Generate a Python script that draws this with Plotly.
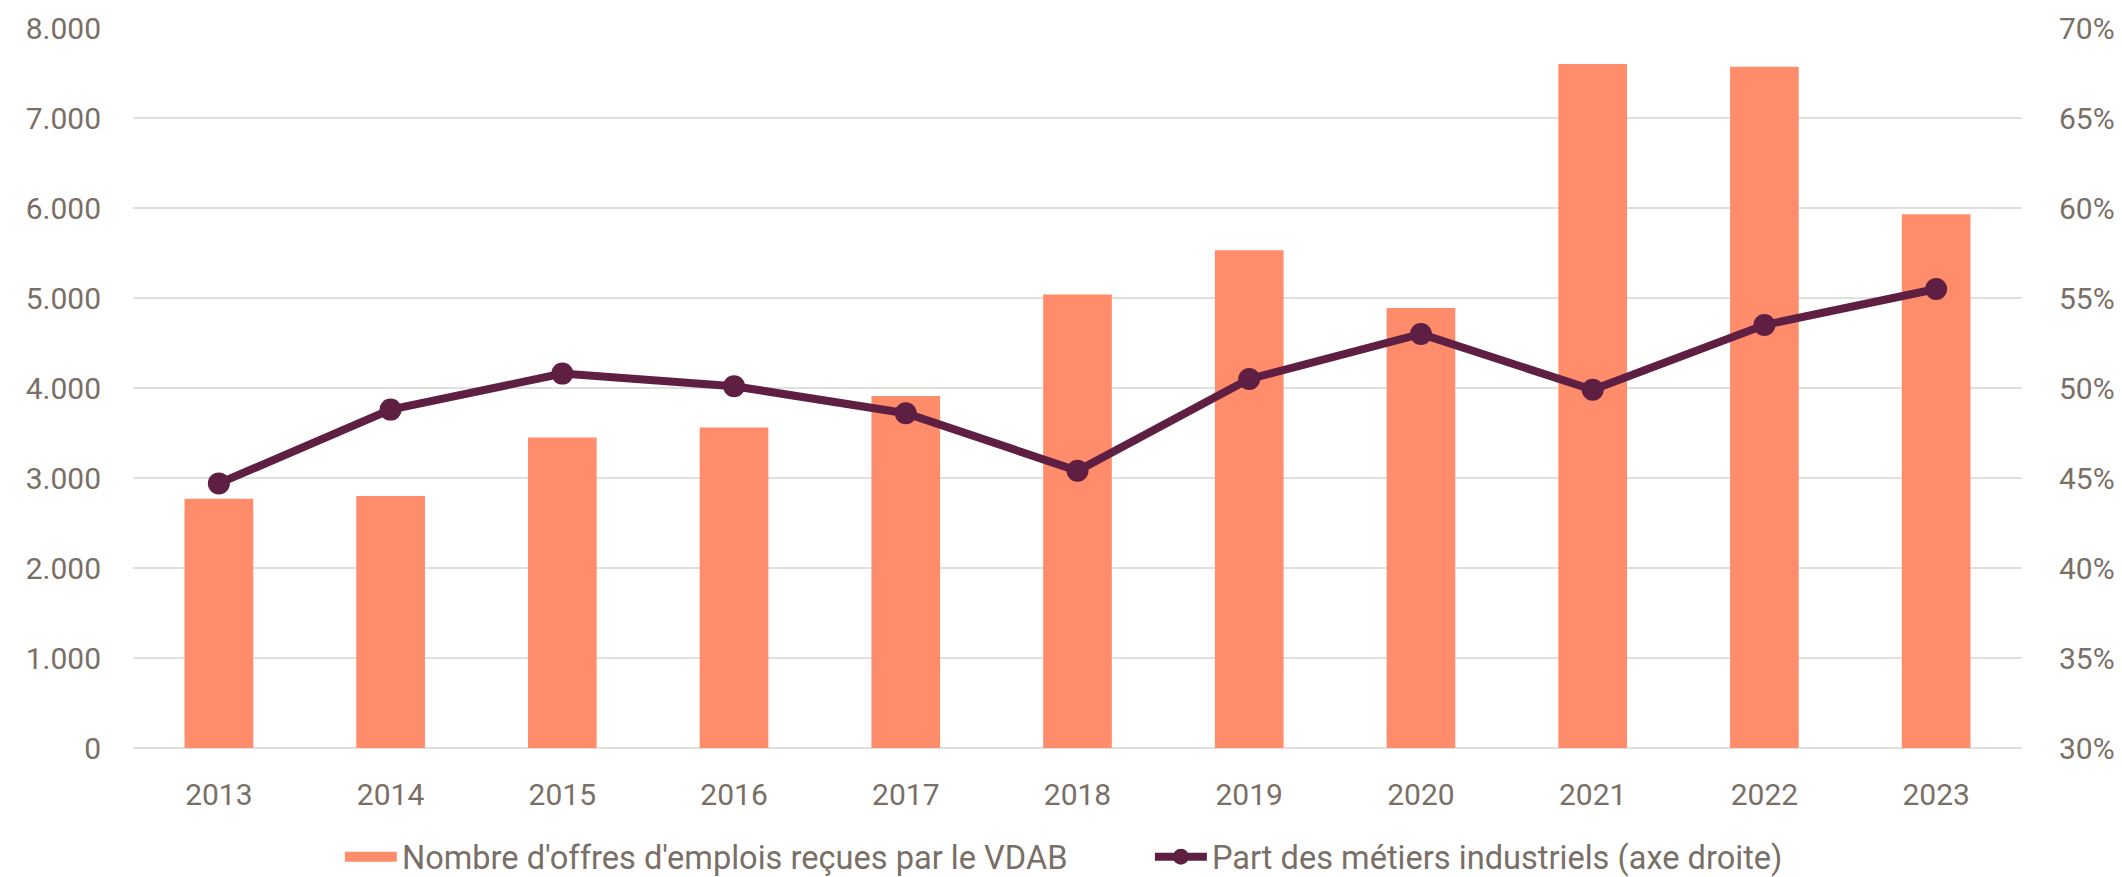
import plotly.graph_objects as go

years = ["2013", "2014", "2015", "2016", "2017", "2018", "2019", "2020", "2021", "2022", "2023"]
offres = [2770, 2800, 3450, 3560, 3910, 5040, 5530, 4890, 7600, 7570, 5930]
part_industrie = [44.7, 48.8, 50.8, 50.1, 48.6, 45.4, 50.5, 53.0, 49.9, 53.5, 55.5]

bar_name = "Nombre d'offres d'emplois reçues par le VDAB"
line_name = "Part des métiers industriels (axe droite)"

bar_color = "#FF8D6B"
line_color = "#5E1F42"
text_color = "#7A6F66"
grid_color = "#E3DFDC"
font_family = "Roboto, Open Sans, sans-serif"

fig = go.Figure()
fig.add_trace(go.Bar(
    x=years, y=offres, name=bar_name,
    marker=dict(color=bar_color, line=dict(width=0)),
    yaxis="y", showlegend=False,
))
# legend proxy for the bar series (wide rectangle swatch)
fig.add_trace(go.Scatter(
    x=[None], y=[None], name=bar_name, mode="lines",
    line=dict(color=bar_color, width=18), yaxis="y", hoverinfo="skip",
))
fig.add_trace(go.Scatter(
    x=years, y=part_industrie, name=line_name,
    mode="lines+markers",
    line=dict(color=line_color, width=8),
    marker=dict(color=line_color, size=22),
    yaxis="y2",
))

# the page body adds an 8px offset, so the figure is 8px smaller each way
fig.update_layout(
    width=2114, height=869,
    margin=dict(l=125, r=100, t=20, b=129),
    paper_bgcolor="white", plot_bgcolor="white",
    separators=",.",
    bargap=0.6,
    font=dict(family=font_family, size=30, color=text_color),
    xaxis=dict(
        type="category", range=[-0.5, len(years) - 0.5],
        showgrid=False, showline=False, ticks="",
        tickfont=dict(size=30, color=text_color), ticklabelstandoff=26,
        automargin=False,
    ),
    yaxis=dict(
        range=[0, 8000], dtick=1000, tickformat=",.0f",
        showgrid=True, gridcolor=grid_color, gridwidth=2,
        zeroline=True, zerolinecolor=grid_color, zerolinewidth=2,
        showline=False, ticks="", ticklabelstandoff=31,
        tickfont=dict(size=30, color=text_color), automargin=False,
    ),
    yaxis2=dict(
        range=[30, 70], dtick=5, ticksuffix="%",
        overlaying="y", side="right", showgrid=False, zeroline=False,
        showline=False, ticks="", ticklabelstandoff=36,
        tickfont=dict(size=30, color=text_color), automargin=False,
    ),
    showlegend=True,
    legend=dict(
        orientation="h", xref="container", yref="container",
        x=0.157, xanchor="left", y=0.023, yanchor="middle",
        font=dict(size=32.6, color=text_color),
        entrywidth=743, entrywidthmode="pixels",
        itemwidth=52, traceorder="normal",
    ),
)

fig.write_html("out.html")
